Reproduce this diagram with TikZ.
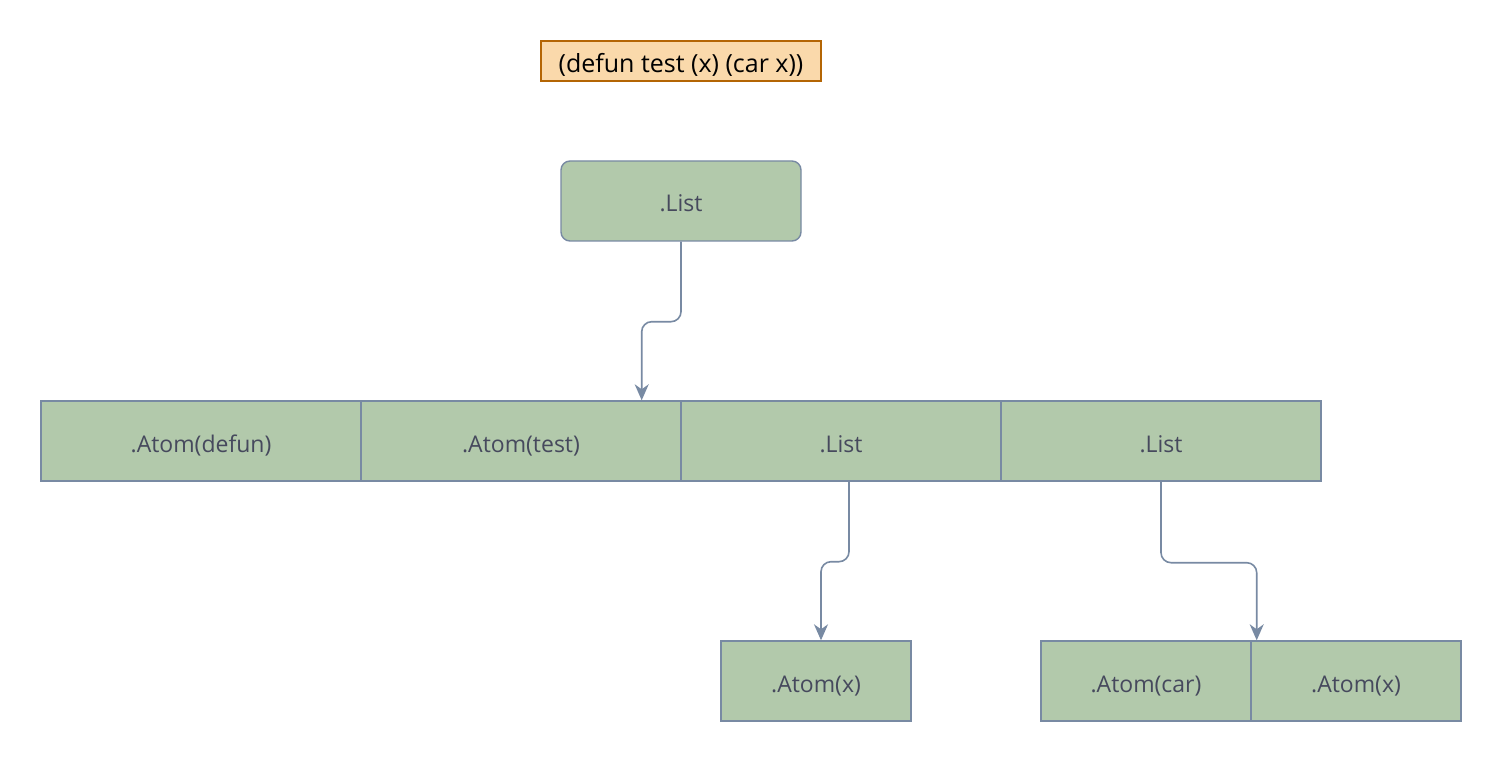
\documentclass[tikz,border=0pt]{standalone}
\usepackage{fontspec}
\setmainfont{Open Sans}
\usetikzlibrary{arrows.meta,calc}
\definecolor{boxfill}{HTML}{B2C9AB}
\definecolor{boxline}{HTML}{788AA3}
\definecolor{boxtext}{HTML}{46495D}
\definecolor{notefill}{HTML}{FAD9AB}
\definecolor{noteline}{HTML}{B46504}
\tikzset{
  cell/.style={draw=boxline,fill=boxfill,line width=1.4pt,text=boxtext,
    minimum height=80pt,inner sep=0pt,text height=25pt,text depth=3pt,
    font=\fontsize{23}{27}\selectfont},
  note/.style={draw=noteline,fill=notefill,line width=1.4pt,text=black,
    minimum width=280pt,minimum height=40pt,inner sep=0pt,text height=26pt,text depth=3pt,
    font=\fontsize{25}{29}\selectfont},
  arr/.style={draw=boxline,line width=1.6pt,rounded corners=10pt,
    -{Stealth[length=16pt,width=14pt,inset=5pt]}},
}
\begin{document}
\begin{tikzpicture}[x=1pt,y=-1pt]
\useasboundingbox[fill=white] (0,0) rectangle (1502,762);
\node[note] (src) at (681,61) {(defun test (x) (car x))};
\node[cell,minimum width=240pt,rounded corners=9pt] (top) at (681,201) {.List};
\node[cell,minimum width=320pt] (b1) at (201,441) {.Atom(defun)};
\node[cell,minimum width=320pt] (b2) at (521,441) {.Atom(test)};
\node[cell,minimum width=320pt] (b3) at (841,441) {.List};
\node[cell,minimum width=320pt] (b4) at (1161,441) {.List};
\node[cell,minimum width=190pt] (ax) at (816,681) {.Atom(x)};
\node[cell,minimum width=210pt] (acar) at (1146,681) {.Atom(car)};
\node[cell,minimum width=210pt] (ax2) at (1356,681) {.Atom(x)};
\draw[arr] (top.south) -- ++(0,80) -| ([xshift=-40pt]b2.north east);
\draw[arr] ([xshift=8pt]b3.south) -- ++(0,80) -| ([xshift=5pt]ax.north);
\draw[arr] (b4.south) -- ++(0,81) -| ([xshift=5pt]acar.north east);
\end{tikzpicture}
\end{document}
